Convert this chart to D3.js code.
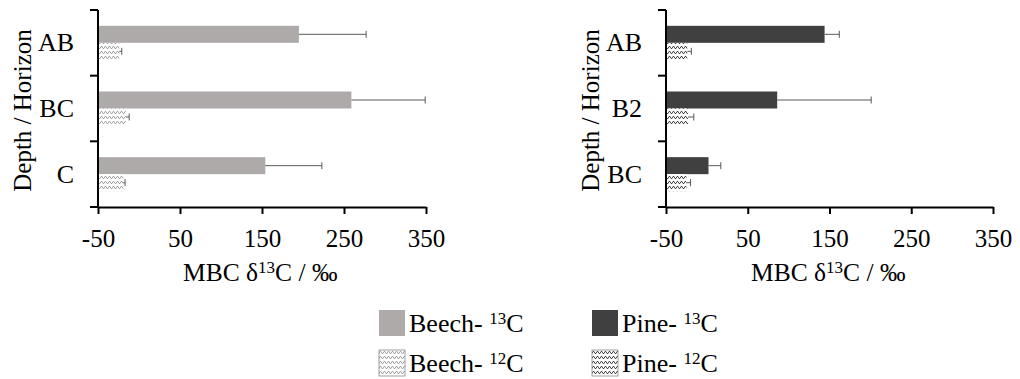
<!DOCTYPE html>
<html>
<head>
<meta charset="utf-8">
<script src="https://cdn.jsdelivr.net/npm/d3@7"></script>
<style>
  body { margin: 0; background: #fff; }
  text { font-family: "Liberation Serif", "Times New Roman", serif; fill: #000; }
</style>
</head>
<body>
<script>
var width = 1020, height = 379

var xTicks = [-50, 50, 150, 250, 350]

var beechCats = ["AB", "BC", "C"]
var beech13 = [195, 259, 154]
var beech13Err = [82, 90, 69]
var beech12 = [-24, -16, -19]
var beech12Err = [3, 4, 2]

var pineCats = ["AB", "B2", "BC"]
var pine13 = [144, 86, 2]
var pine13Err = [18, 115, 15]
var pine12 = [-24, -23, -25]
var pine12Err = [5, 7, 5]

var beechFill = "#aeaaaa", pineFill = "#404040"

var svg = d3.select("body").append("svg")
    .attr("width", width)
    .attr("height", height)

// wave patterns for the 12C bars
var defs = svg.append("defs")
function wave(id, col) {
  var p = defs.append("pattern")
      .attr("id", id)
      .attr("patternUnits", "userSpaceOnUse")
      .attr("width", 4).attr("height", 5)
  p.append("rect").attr("width", 4).attr("height", 5).attr("fill", "#fff")
  p.append("path")
      .attr("d", "M0,3.5 L1,1.5 L2,1.5 L3,3.5 L4,3.5")
      .attr("fill", "none")
      .attr("stroke", col)
      .attr("stroke-width", 0.9)
}
wave("beechWave", "#9a9a9a")
wave("pineWave", "#333")

function panel(left, right, cats, v13, e13, v12, e12, fill13, fill12) {
  var top = 10, bottom = 207
  var x = d3.scaleLinear().domain([-50, 350]).range([left, right])
  var y = d3.scaleBand().domain(cats).range([top, bottom])
  var sub = d3.scaleBand().domain(["13", "12"]).range([0, y.bandwidth()]).paddingOuter(0.93)

  var g = svg.append("g")

  var rows = cats.map(function(c, i) {
    return [
      {cat: c, s: "13", v: v13[i], e: e13[i], fill: fill13},
      {cat: c, s: "12", v: v12[i], e: e12[i], fill: fill12}
    ]
  }).flat()

  g.selectAll("rect.bar")
      .data(rows)
      .enter()
      .append("rect")
      .attr("class", "bar")
      .attr("x", x(-50))
      .attr("y", function(d) { return y(d.cat) + sub(d.s); })
      .attr("width", function(d) { return x(d.v) - x(-50); })
      .attr("height", sub.bandwidth())
      .attr("fill", function(d) { return d.fill; })

  // error bars (plus side only)
  g.selectAll("line.err")
      .data(rows)
      .enter()
      .append("line")
      .attr("x1", function(d) { return x(d.v); })
      .attr("x2", function(d) { return x(d.v + d.e); })
      .attr("y1", function(d) { return y(d.cat) + sub(d.s) + sub.bandwidth() / 2; })
      .attr("y2", function(d) { return y(d.cat) + sub(d.s) + sub.bandwidth() / 2; })
      .attr("stroke", "#595959")
      .attr("stroke-width", 1)
  g.selectAll("line.cap")
      .data(rows)
      .enter()
      .append("line")
      .attr("x1", function(d) { return x(d.v + d.e); })
      .attr("x2", function(d) { return x(d.v + d.e); })
      .attr("y1", function(d) { return y(d.cat) + sub(d.s) + sub.bandwidth() / 2 - 3.5; })
      .attr("y2", function(d) { return y(d.cat) + sub(d.s) + sub.bandwidth() / 2 + 3.5; })
      .attr("stroke", "#595959")
      .attr("stroke-width", 1)

  // x axis
  var xa = g.append("g")
      .attr("transform", "translate(0," + bottom + ")")
      .call(d3.axisBottom(x).tickValues(xTicks).tickSize(7).tickSizeOuter(0)
        .tickFormat(function(d) { return String(d); }))
  xa.select(".domain").attr("stroke", "#000").attr("stroke-width", 2)
  xa.selectAll(".tick line").attr("stroke", "#000").attr("stroke-width", 2)
  xa.selectAll(".tick text")
      .attr("y", 0).attr("dy", 0)
      .attr("transform", "translate(0,40)")
      .style("font-size", "25px")
      .style("font-family", "Liberation Serif")

  // y axis with ticks between categories
  var ya = g.append("g")
      .attr("transform", "translate(" + left + ",0)")
  ya.append("line")
      .attr("x1", 0).attr("x2", 0)
      .attr("y1", top).attr("y2", bottom + 1)
      .attr("stroke", "#000").attr("stroke-width", 2)
  ya.selectAll("line.tk")
      .data(cats.concat(["end"]))
      .enter()
      .append("line")
      .attr("x1", -8).attr("x2", 0)
      .attr("y1", function(d, i) { return i < cats.length ? y(d) : bottom; })
      .attr("y2", function(d, i) { return i < cats.length ? y(d) : bottom; })
      .attr("stroke", "#000").attr("stroke-width", 2)
  ya.selectAll("text.cat")
      .data(cats)
      .enter()
      .append("text")
      .attr("x", -24)
      .attr("y", function(d) { return y(d) + y.bandwidth() / 2 + 8.5; })
      .attr("text-anchor", "end")
      .style("font-size", "26px")
      .text(function(d) { return d; })

  // axis titles
  g.append("text")
      .attr("transform", "translate(" + (left - 67) + "," + ((top + bottom) / 2 + 2) + ") rotate(-90)")
      .attr("text-anchor", "middle")
      .style("font-size", "25px")
      .text("Depth / Horizon")

  var t = g.append("text")
      .attr("x", left + 85)
      .attr("y", 281)
      .style("font-size", "25.5px")
  t.append("tspan").text("MBC δ")
  t.append("tspan").attr("dy", -8).style("font-size", "17px").text("13")
  t.append("tspan").attr("dy", 8).text("C / ‰")
}

panel(98, 426, beechCats, beech13, beech13Err, beech12, beech12Err, beechFill, "url(#beechWave)")
panel(666, 993, pineCats, pine13, pine13Err, pine12, pine12Err, pineFill, "url(#pineWave)")

// legend
var legend = [
  {label: "Beech- ", iso: "13", fill: beechFill, x: 379, y: 310},
  {label: "Pine- ", iso: "13", fill: pineFill, x: 592, y: 310},
  {label: "Beech- ", iso: "12", fill: "url(#beechWave)", x: 379, y: 350},
  {label: "Pine- ", iso: "12", fill: "url(#pineWave)", x: 592, y: 350}
]
var lg = svg.selectAll("g.leg")
    .data(legend)
    .enter()
    .append("g")
    .attr("class", "leg")
    .attr("transform", function(d) { return "translate(" + d.x + "," + d.y + ")"; })
lg.append("rect")
    .attr("width", 26).attr("height", 26)
    .attr("fill", function(d) { return d.fill; })
    .attr("stroke", function(d) { return d.iso == "12" ? "#888" : "none"; })
    .attr("stroke-width", 0.8)
var lt = lg.append("text")
    .attr("x", 30).attr("y", 22)
    .style("font-size", "26px")
lt.append("tspan").text(function(d) { return d.label; })
lt.append("tspan").attr("dy", -8).style("font-size", "17px").text(function(d) { return d.iso; })
lt.append("tspan").attr("dy", 8).text("C")
</script>
</body>
</html>
